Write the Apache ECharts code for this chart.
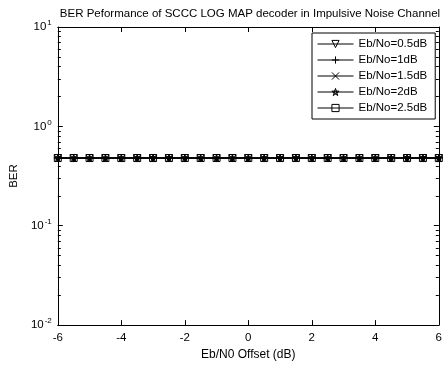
<!DOCTYPE html>
<html>
<head>
<meta charset="utf-8">
<script src="https://cdn.jsdelivr.net/npm/echarts@6/dist/echarts.min.js"></script>
<style>
  html, body { margin: 0; padding: 0; background: #fff; }
  #chart { width: 445px; height: 366px; }
</style>
</head>
<body>
<div id="chart"></div>
<script>
// Eb/N0 offset in dB, 0.5 dB steps
const offsets = [-6, -5.5, -5, -4.5, -4, -3.5, -3, -2.5, -2, -1.5, -1, -0.5, 0,
  0.5, 1, 1.5, 2, 2.5, 3, 3.5, 4, 4.5, 5, 5.5, 6];
const ber05 = [0.48, 0.48, 0.48, 0.48, 0.48, 0.48, 0.48, 0.48, 0.48, 0.48, 0.48, 0.48, 0.48,
  0.48, 0.48, 0.48, 0.48, 0.48, 0.48, 0.48, 0.48, 0.48, 0.48, 0.48, 0.48];
const ber10 = [0.48, 0.48, 0.48, 0.48, 0.48, 0.48, 0.48, 0.48, 0.48, 0.48, 0.48, 0.48, 0.48,
  0.48, 0.48, 0.48, 0.48, 0.48, 0.48, 0.48, 0.48, 0.48, 0.48, 0.48, 0.48];
const ber15 = [0.48, 0.48, 0.48, 0.48, 0.48, 0.48, 0.48, 0.48, 0.48, 0.48, 0.48, 0.48, 0.48,
  0.48, 0.48, 0.48, 0.48, 0.48, 0.48, 0.48, 0.48, 0.48, 0.48, 0.48, 0.48];
const ber20 = [0.48, 0.48, 0.48, 0.48, 0.48, 0.48, 0.48, 0.48, 0.48, 0.48, 0.48, 0.48, 0.48,
  0.48, 0.48, 0.48, 0.48, 0.48, 0.48, 0.48, 0.48, 0.48, 0.48, 0.48, 0.48];
const ber25 = [0.48, 0.48, 0.48, 0.48, 0.48, 0.48, 0.48, 0.48, 0.48, 0.48, 0.48, 0.48, 0.48,
  0.48, 0.48, 0.48, 0.48, 0.48, 0.48, 0.48, 0.48, 0.48, 0.48, 0.48, 0.48];
const seriesNames = ['Eb/No=0.5dB', 'Eb/No=1dB', 'Eb/No=1.5dB', 'Eb/No=2dB', 'Eb/No=2.5dB'];
const yExponents = { 0.01: '-2', 0.1: '-1', 1: '0', 10: '1' };
const minorTicks = [0.02, 0.03, 0.04, 0.05, 0.06, 0.07, 0.08, 0.09,
  0.2, 0.3, 0.4, 0.5, 0.6, 0.7, 0.8, 0.9, 2, 3, 4, 5, 6, 7, 8, 9];

const font = 'Liberation Sans, Arial, sans-serif';
const symbols = [
  'path://M-1,-0.9L1,-0.9L0,0.9Z',
  'path://M0,-1L0,1M-1,0L1,0',
  'path://M-1,-1L1,1M-1,1L1,-1',
  'path://M0,-1L0.59,0.81L-0.95,-0.31L0.95,-0.31L-0.59,0.81Z',
  'path://M-1,-1L1,-1L1,1L-1,1Z'
];
const sizes = [7, 8, 4, 7, 7];
const datasets = [ber05, ber10, ber15, ber20, ber25];

const chart = echarts.init(document.getElementById('chart'), null, { renderer: 'canvas' });

const xBase = {
  type: 'value', min: -6, max: 6, interval: 2,
  axisLine: { onZero: false, lineStyle: { color: '#000', width: 1 } },
  axisTick: { inside: true, length: 5, lineStyle: { color: '#000' } },
  splitLine: { show: false }
};
const yBase = {
  type: 'log', min: 0.01, max: 10, logBase: 10,
  axisLine: { onZero: false, lineStyle: { color: '#000', width: 1 } },
  axisTick: { inside: true, length: 5, lineStyle: { color: '#000' } },
  splitLine: { show: false }
};

chart.setOption({
  animation: false,
  backgroundColor: '#fff',
  textStyle: { fontFamily: font },
  title: {
    text: 'BER Peformance of SCCC LOG MAP decoder in Impulsive Noise Channel',
    left: 245, top: 3, textAlign: 'center',
    textStyle: { fontSize: 11.5, fontWeight: 'normal', color: '#000', fontFamily: font }
  },
  grid: { left: 53, right: 2, top: 27, bottom: 33 },
  legend: {
    orient: 'vertical',
    left: 312, top: 33,
    padding: [5, 8, 5, 5],
    itemGap: 4, itemWidth: 36, itemHeight: 9,
    backgroundColor: '#fff', borderColor: '#000', borderWidth: 1,
    lineStyle: { width: 1 },
    itemStyle: { borderWidth: 1 },
    textStyle: { fontSize: 11.5, color: '#000', fontFamily: font },
    data: seriesNames
  },
  xAxis: [
    Object.assign({}, xBase, {
      position: 'bottom',
      name: 'Eb/N0 Offset (dB)', nameLocation: 'middle', nameGap: 22,
      nameTextStyle: { fontSize: 12, color: '#000', fontFamily: font },
      axisLabel: { color: '#000', fontSize: 11.5, margin: 7, fontFamily: font }
    }),
    Object.assign({}, xBase, { position: 'top', axisLabel: { show: false } })
  ],
  yAxis: [
    Object.assign({}, yBase, {
      position: 'left',
      name: 'BER', nameLocation: 'middle', nameGap: 36,
      nameTextStyle: { fontSize: 11.5, color: '#000', fontFamily: font },
      axisLabel: {
        margin: 6, color: '#000', fontSize: 11.5, fontFamily: font,
        formatter: v => '10{s|' + yExponents[v] + '}',
        rich: { s: { fontSize: 8, verticalAlign: 'top', padding: [0, 0, 8, 1], color: '#000', fontFamily: font } }
      }
    }),
    Object.assign({}, yBase, { position: 'right', axisLabel: { show: false } }),
    Object.assign({}, yBase, {
      position: 'left', axisLine: { show: false, onZero: false }, axisLabel: { show: false },
      axisTick: { inside: true, length: 3, lineStyle: { color: '#000' }, customValues: minorTicks }
    }),
    Object.assign({}, yBase, {
      position: 'right', axisLine: { show: false, onZero: false }, axisLabel: { show: false },
      axisTick: { inside: true, length: 3, lineStyle: { color: '#000' }, customValues: minorTicks }
    })
  ],
  series: seriesNames.map((name, i) => ({
    name: name,
    type: 'line',
    xAxisIndex: 0, yAxisIndex: 0,
    data: offsets.map((x, j) => [x, datasets[i][j]]),
    symbol: symbols[i],
    symbolSize: sizes[i],
    showAllSymbol: true,
    lineStyle: { color: '#000', width: 1 },
    itemStyle: { color: 'rgba(0,0,0,0)', borderColor: '#000', borderWidth: 1 },
    emphasis: { disabled: true }
  }))
});
</script>
</body>
</html>
